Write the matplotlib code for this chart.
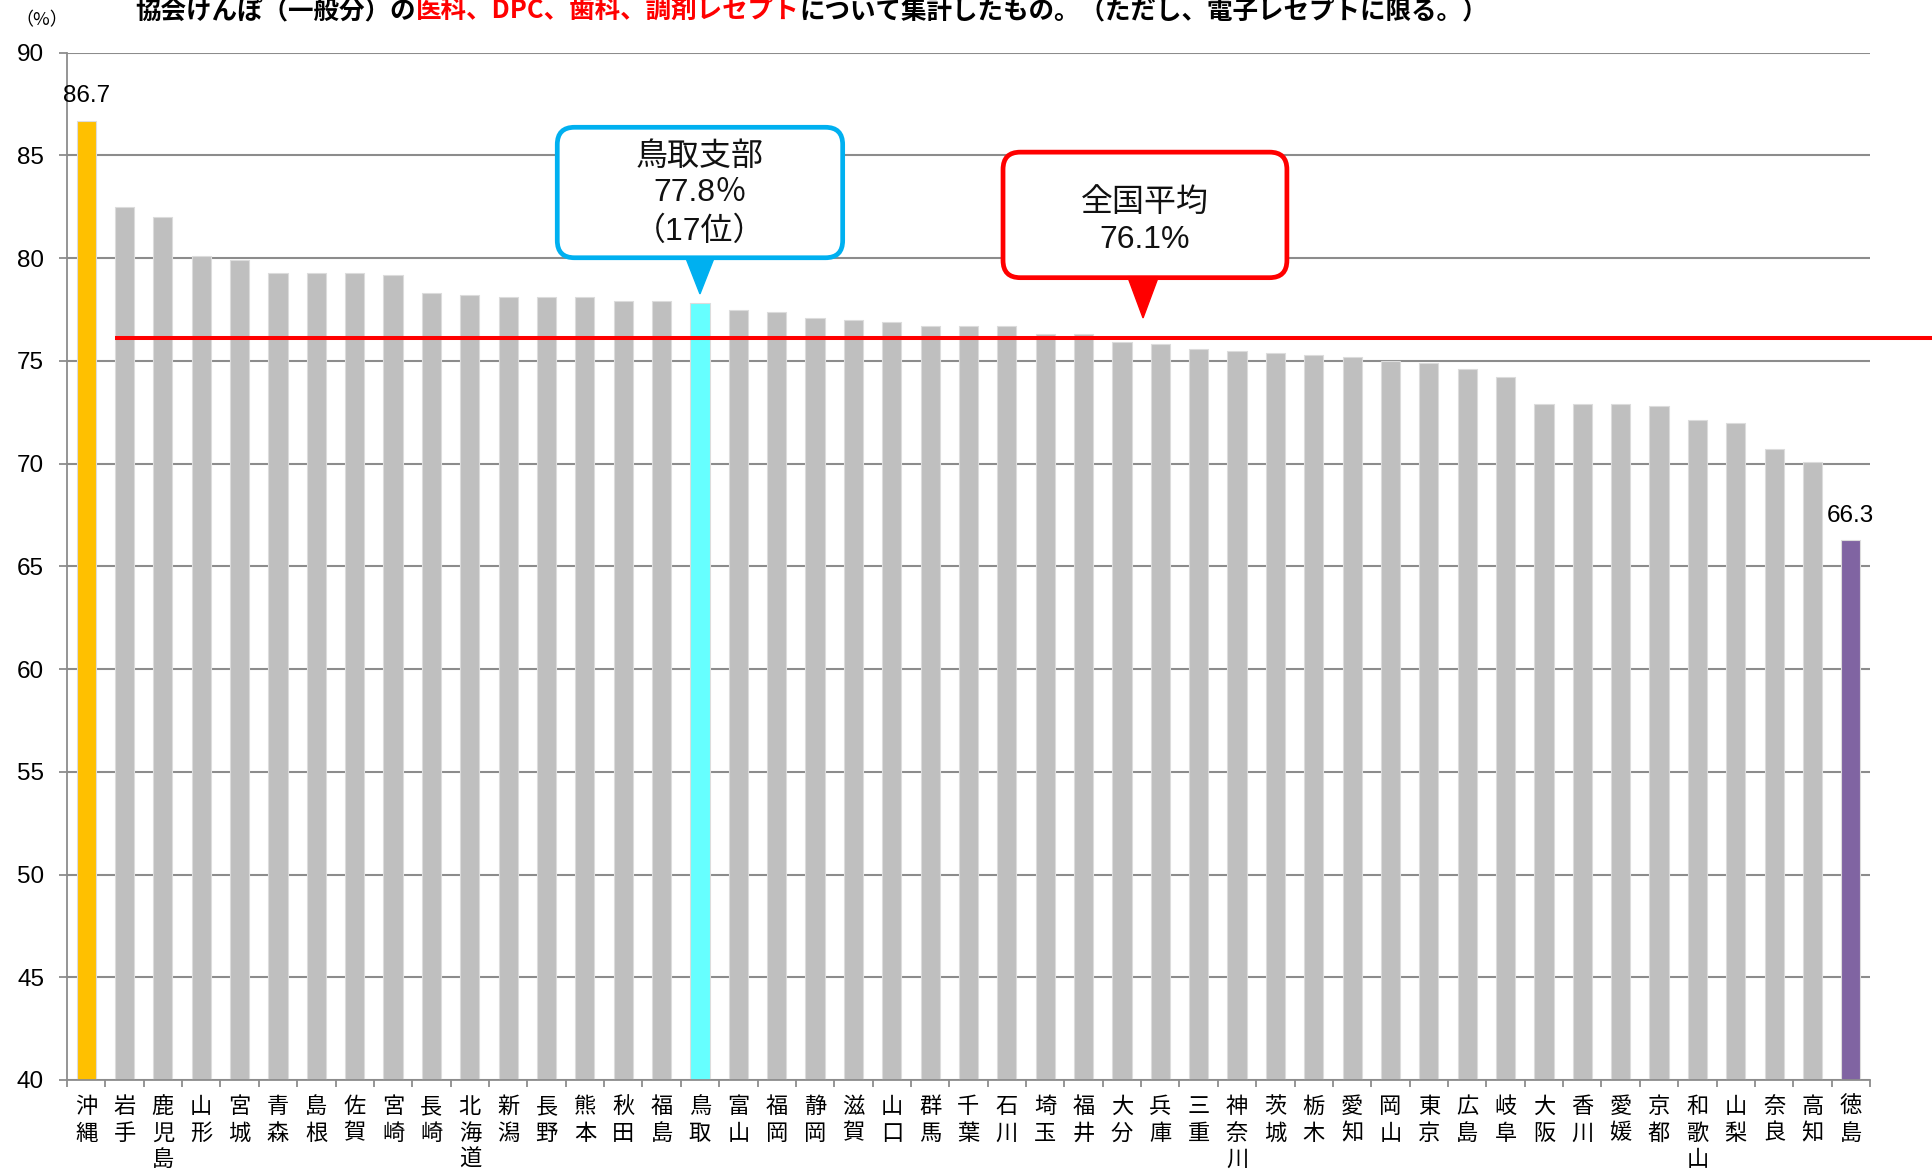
import matplotlib
matplotlib.use("Agg")
import matplotlib.pyplot as plt
from matplotlib.patches import FancyBboxPatch, Polygon
import numpy as np

# ─ DATA ─
prefs = ["沖縄", "岩手", "鹿児島", "山形", "宮城", "青森", "島根", "佐賀", "宮崎", "長崎",
         "北海道", "新潟", "長野", "熊本", "秋田", "福島", "鳥取", "富山", "福岡", "静岡",
         "滋賀", "山口", "群馬", "千葉", "石川", "埼玉", "福井", "大分", "兵庫", "三重",
         "神奈川", "茨城", "栃木", "愛知", "岡山", "東京", "広島", "岐阜", "大阪", "香川",
         "愛媛", "京都", "和歌山", "山梨", "奈良", "高知", "徳島"]
rates = [86.7, 82.5, 82.0, 80.1, 79.9, 79.3, 79.3, 79.3, 79.2, 78.3,
         78.2, 78.1, 78.1, 78.1, 77.9, 77.9, 77.8, 77.5, 77.4, 77.1,
         77.0, 76.9, 76.7, 76.7, 76.7, 76.3, 76.3, 75.9, 75.8, 75.6,
         75.5, 75.4, 75.3, 75.2, 75.0, 74.9, 74.6, 74.2, 72.9, 72.9,
         72.9, 72.8, 72.1, 72.0, 70.7, 70.1, 66.3]
avg_rate = 76.1
own_pref = "鳥取"
own_label = ["鳥取支部", "77.8％", "（17位）"]
avg_label = ["全国平均", "76.1%"]
yticks = [40, 45, 50, 55, 60, 65, 70, 75, 80, 85, 90]

title_parts = ["協会けんぽ（一般分）の", "医科、DPC、歯科、調剤レセプト",
               "について集計したもの。（ただし、電子レセプトに限る。）"]
title_colors = ["black", "#ff0000", "black"]

# ─ STYLE ─
CJK = ["Noto Sans CJK JP", "DejaVu Sans"]
NUM = ["Liberation Sans", "DejaVu Sans"]
MIX = ["Liberation Sans", "Noto Sans CJK JP", "DejaVu Sans"]
GRID = "#8c8c8c"
W, H = 1933, 1173

fig = plt.figure(figsize=(W / 100, H / 100), dpi=100)
ax = fig.add_axes([67 / W, 93 / H, (1870 - 67) / W, (1080 - 52.7) / H])

x = np.arange(len(prefs))
own_idx = prefs.index(own_pref)
colors = ["#bfbfbf"] * len(prefs)
colors[0] = "#ffc000"
colors[-1] = "#8064a2"
colors[own_idx] = "#66ffff"

ax.bar(x, rates, width=0.5, color=colors, edgecolor="#dcdcdc", linewidth=0.8, zorder=2)

ax.set_xlim(-0.5, len(prefs) - 0.5)
ax.set_ylim(40, 90)
ax.set_axisbelow(True)
ax.yaxis.grid(True, color=GRID, linewidth=1.5)

for s in ["top", "right"]:
    ax.spines[s].set_visible(False)
for s in ["left", "bottom"]:
    ax.spines[s].set_color(GRID)
    ax.spines[s].set_linewidth(1.3)

ax.set_yticks(yticks)
ax.set_yticklabels([str(v) for v in yticks], family=NUM, fontsize=17.5)
ax.tick_params(axis="y", length=5.5, width=1.3, color=GRID, pad=11)

ax.set_xticks(x)
ax.set_xticklabels(["\n".join(p) for p in prefs], family=CJK, fontsize=16, linespacing=1.18)
ax.tick_params(axis="x", which="major", length=0, pad=11)
ax.set_xticks(np.arange(-0.5, len(prefs), 1), minor=True)
ax.tick_params(axis="x", which="minor", length=5, width=1.3, color=GRID)

# first and last values
for i in (0, len(prefs) - 1):
    ax.annotate(f"{rates[i]:.1f}", (x[i], rates[i]), xytext=(0, 13), textcoords="offset points",
                ha="center", va="baseline", family=NUM, fontsize=17.5)

# national average line, runs past the plot area
ax.plot([0.75, 48.3], [avg_rate, avg_rate], color="#ff0000", linewidth=2.9,
        clip_on=False, zorder=4, solid_capstyle="butt")

# ─ CALLOUTS ─
aspect = 38.36 / 20.546


def callout(cx, half_w, y0, y1, tip_x, tip_y, base_w, color, lines, line_ys):
    box = FancyBboxPatch((cx - half_w, y0), 2 * half_w, y1 - y0,
                         boxstyle="round,pad=0,rounding_size=0.45", mutation_aspect=aspect,
                         facecolor="white", edgecolor=color, linewidth=3.4, zorder=6)
    ax.add_patch(box)
    tri = Polygon([(tip_x - base_w, y0 + 0.05), (tip_x + base_w, y0 + 0.05), (tip_x, tip_y)],
                  closed=True, facecolor=color, edgecolor=color, linewidth=1, zorder=7)
    ax.add_patch(tri)
    for k, (txt, yy) in enumerate(zip(lines, line_ys)):
        fam = CJK if k == 0 else MIX
        ax.text(cx, yy, txt, ha="center", va="center", family=fam, fontsize=23,
                color="#111111", zorder=8)


callout(own_idx, 3.72, 80.02, 86.37, own_idx, rates[own_idx] + 0.46, 0.38,
        "#00b0f0", own_label, [84.95, 83.17, 81.29])
callout(27.6, 3.7, 79.05, 85.16, 27.55, 77.09, 0.40,
        "#ff0000", avg_label, [82.75, 80.88])

# ─ TEXTS ─
fig.text(42 / W, 1 - 20 / H, "（%）", ha="center", va="center", family=CJK, fontsize=13)

prev = fig.text(135 / W, 1 - 18 / H, title_parts[0], ha="left", va="baseline",
                family=CJK, fontsize=18.4, fontweight="bold", color=title_colors[0])
for part, col in zip(title_parts[1:], title_colors[1:]):
    prev = ax.annotate(part, xy=(1, 0), xycoords=prev, ha="left", va="bottom",
                       family=CJK, fontsize=18.4, fontweight="bold", color=col,
                       annotation_clip=False)

fig.savefig("out.png", dpi=100)
